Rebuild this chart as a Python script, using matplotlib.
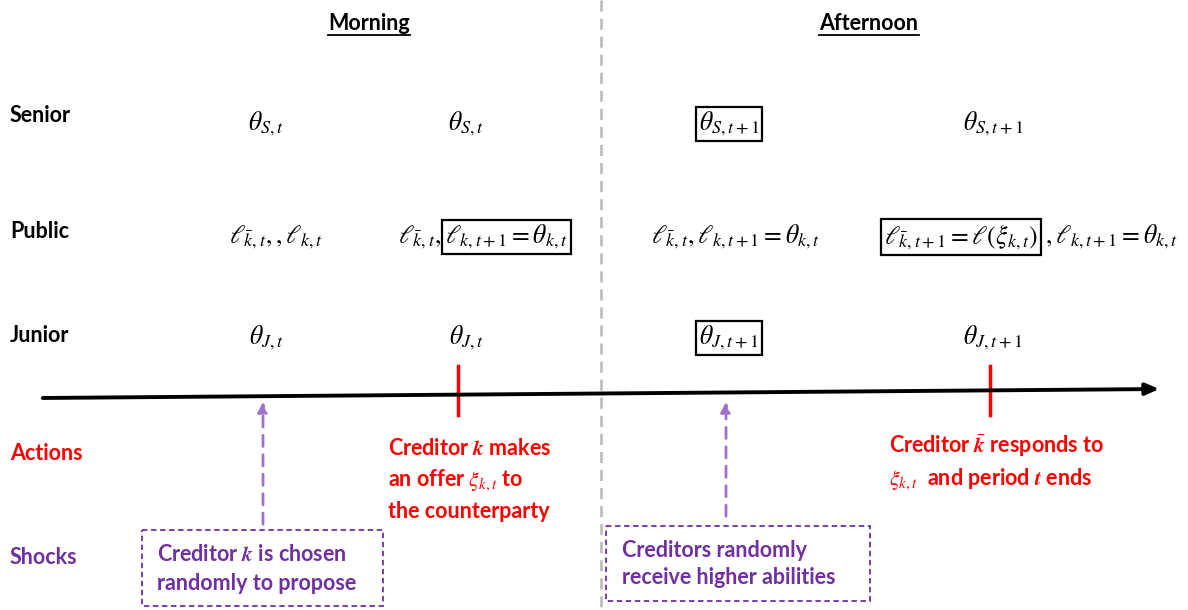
import matplotlib
matplotlib.use('Agg')
import matplotlib.pyplot as plt
from matplotlib.patches import Rectangle

plt.rcParams['font.family'] = ['Lato', 'DejaVu Sans']
plt.rcParams['mathtext.fontset'] = 'stix'

# --- content ---
periods = ['Morning', 'Afternoon']
row_labels = ['Senior', 'Public', 'Junior']
side_labels = ['Actions', 'Shocks']

senior = [r'$\theta_{S,t}$', r'$\theta_{S,t}$', r'$\theta_{S,t+1}$', r'$\theta_{S,t+1}$']
junior = [r'$\theta_{J,t}$', r'$\theta_{J,t}$', r'$\theta_{J,t+1}$', r'$\theta_{J,t+1}$']
boxed_state = [False, False, True, False]

# public row: (plain prefix, boxed part, plain suffix)
public = [
    (r'$\ell_{\bar{k},t},,\ell_{k,t}$', '', ''),
    (r'$\ell_{\bar{k},t},$', r'$\ell_{k,t+1}=\theta_{k,t}$', ''),
    (r'$\ell_{\bar{k},t},\ell_{k,t+1}=\theta_{k,t}$', '', ''),
    ('', r'$\ell_{\bar{k},t+1}=\ell(\xi_{k,t})$', r'$,\ell_{k,t+1}=\theta_{k,t}$'),
]

actions = [
    'Creditor $\\mathbfit{k}$ makes\nan offer $\\xi_{k,t}$ to\nthe counterparty',
    'Creditor $\\bar{\\mathbfit{k}}$ responds to\n$\\xi_{k,t}$  and period $\\mathbfit{t}$ ends',
]
shocks = [
    'Creditor $\\mathbfit{k}$ is chosen\nrandomly to propose',
    'Creditors randomly\nreceive higher abilities',
]

# --- layout (pixels) ---
W, H = 1188, 610
RED = '#ff0000'
PURPLE = '#7030a0'
LPURPLE = '#9e72c9'
FS = 15.5   # body text
MS = 18.5   # math states

fig = plt.figure(figsize=(W / 100, H / 100), dpi=100)
ax = fig.add_axes([0, 0, 1, 1])
ax.set_xlim(0, W)
ax.set_ylim(H, 0)
ax.axis('off')

# period headers and divider
for x, p, half in zip([369, 869], periods, [41, 50]):
    ax.text(x, 24, p, ha='center', va='center', fontsize=FS, fontweight='bold')
    ax.plot([x - half, x + half], [35, 35], color='black', lw=1.3)
ax.plot([601, 601], [0, H], color='#bfbfbf', lw=2, ls=(0, (4, 2.5)))

# row labels
for y, lab in zip([116, 232, 336], row_labels):
    ax.text(10, y, lab, ha='left', va='center', fontsize=FS, fontweight='bold')
ax.text(10, 453, side_labels[0], ha='left', va='center', fontsize=FS, fontweight='bold', color=RED)
ax.text(10, 558, side_labels[1], ha='left', va='center', fontsize=FS, fontweight='bold', color=PURPLE)

box = dict(boxstyle='square,pad=0.12', fc='none', ec='black', lw=1.6)
state_x = [266, 466, 729, 993]
for x, s, b in zip(state_x, senior, boxed_state):
    ax.text(x, 124, s, ha='center', va='center', fontsize=MS, bbox=box if b else None)
for x, s, b in zip(state_x, junior, boxed_state):
    ax.text(x, 338, s, ha='center', va='center', fontsize=MS, bbox=box if b else None)

# public row
pub_y = 237
ax.text(276, pub_y, public[0][0], ha='center', va='center', fontsize=MS)
ax.text(441, pub_y, public[1][0], ha='right', va='center', fontsize=MS)
ax.text(445, pub_y, public[1][1], ha='left', va='center', fontsize=MS, bbox=box)
ax.text(736, pub_y, public[2][0], ha='center', va='center', fontsize=MS)
ax.text(884, pub_y, public[3][1], ha='left', va='center', fontsize=MS, bbox=box)
ax.text(1045, pub_y, public[3][2], ha='left', va='center', fontsize=MS)

# timeline
ax.annotate('', xy=(1162, 389), xytext=(40, 398),
            arrowprops=dict(arrowstyle='-|>,head_length=0.8,head_width=0.35', color='black', lw=2.8))
for x in [458, 990]:
    ax.plot([x, x], [366, 415], color=RED, lw=2.5)

# actions
ax.text(388, 480, actions[0], ha='left', va='center', fontsize=FS, fontweight='bold',
        color=RED, linespacing=1.45)
ax.text(889, 462, actions[1], ha='left', va='center', fontsize=FS, fontweight='bold',
        color=RED, linespacing=1.45)

# shocks: dashed arrows and boxes
for x, y0 in [(263, 527), (726, 519)]:
    ax.annotate('', xy=(x, 399), xytext=(x, y0),
                arrowprops=dict(arrowstyle='-|>,head_length=0.6,head_width=0.3', color=LPURPLE,
                                lw=2, ls=(0, (4, 3))))
for (x0, y0, x1, y1) in [(142, 530, 383, 606), (606, 526, 870, 601)]:
    ax.add_patch(Rectangle((x0, y0), x1 - x0, y1 - y0, fill=False, ec=PURPLE, lw=1.3,
                           ls=(0, (3, 2))))
ax.text(157, 569, shocks[0], ha='left', va='center', fontsize=FS, fontweight='bold',
        color=PURPLE, linespacing=1.5)
ax.text(622, 564, shocks[1], ha='left', va='center', fontsize=FS, fontweight='bold',
        color=PURPLE, linespacing=1.35)

fig.savefig('out.png', dpi=100)
